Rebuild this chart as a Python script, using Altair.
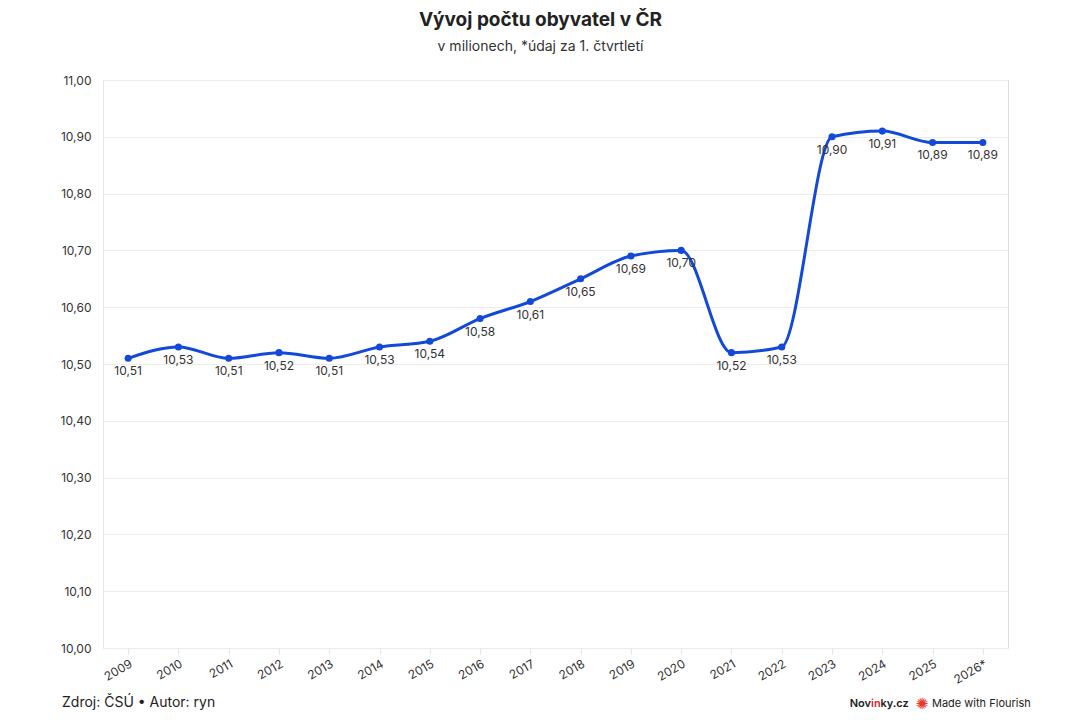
import altair as alt
import pandas as pd

years = ["2009", "2010", "2011", "2012", "2013", "2014", "2015", "2016", "2017",
         "2018", "2019", "2020", "2021", "2022", "2023", "2024", "2025", "2026*"]
values = [10.51, 10.53, 10.51, 10.52, 10.51, 10.53, 10.54, 10.58, 10.61,
          10.65, 10.69, 10.70, 10.52, 10.53, 10.90, 10.91, 10.89, 10.89]
y_ticks = [10.0, 10.1, 10.2, 10.3, 10.4, 10.5, 10.6, 10.7, 10.8, 10.9, 11.0]

df = pd.DataFrame({"rok": years, "hodnota": values})
df["popisek"] = [f"{v:.2f}".replace(".", ",") for v in values]

FONT = "Inter"
BLUE = "#1249d8"
TXT = "#333333"

x = alt.X("rok:O", sort=years, title=None,
          scale=alt.Scale(type="point", padding=0.5),
          axis=alt.Axis(labelAngle=330, labelAlign="right", labelBaseline="top",
                        labelFontSize=12, labelColor=TXT, labelFont=FONT,
                        tickColor="#e6e6e6", tickSize=6, domain=False,
                        labelPadding=4, grid=False))
y = alt.Y("hodnota:Q", title=None,
          scale=alt.Scale(domain=[10.0, 11.0], nice=False, zero=False),
          axis=alt.Axis(values=y_ticks, labelExpr="replace(format(datum.value, '.2f'), '.', ',')",
                        labelFontSize=12, labelColor=TXT, labelFont=FONT,
                        ticks=False, labelPadding=12, domain=True, domainColor="#e6e6e6",
                        gridColor="#ececec", grid=True))

base = alt.Chart(df)

line = base.mark_line(color=BLUE, strokeWidth=3, interpolate="monotone").encode(x=x, y=y)
points = base.mark_point(filled=True, color=BLUE, size=50, opacity=1).encode(x=x, y=y)
labels = base.mark_text(dy=13, fontSize=12, color=TXT, font=FONT, baseline="middle").encode(
    x=x, y=y, text="popisek:N")

footer_df = pd.DataFrame({"t": ["Zdroj: ČSÚ • Autor: ryn"]})
footer = alt.Chart(footer_df).mark_text(align="left", baseline="middle", fontSize=14,
                                        color="#222222", font=FONT).encode(
    x=alt.value(-41), y=alt.value(623), text="t:N")


def note(txt, xpos, color, size=11, weight=600, font=FONT, align="left"):
    d = pd.DataFrame({"t": [txt]})
    return alt.Chart(d).mark_text(align=align, baseline="middle", fontSize=size,
                                  fontWeight=weight, color=color, font=font).encode(
        x=alt.value(xpos), y=alt.value(624), text="t:N")


brand = alt.layer(
    note("Nov", 768, "#222222", align="right"),
    note("in", 768, "#d8232a"),
    note("ky.cz", 777.5, "#222222"),
    note("✺", 819, "#e8372c", size=15, weight=400, font="DejaVu Sans", align="center"),
    note("Made with Flourish", 829, "#222222", size=11, weight=400),
)

chart = alt.layer(line, points, labels, footer, brand).properties(
    width=905, height=568,
    autosize=alt.AutoSizeParams(type="none"),
    padding={"left": 95, "top": 72, "right": 64, "bottom": 64},
    title=alt.TitleParams(
        text="Vývoj počtu obyvatel v ČR",
        subtitle="v milionech, *údaj za 1. čtvrtletí",
        anchor="middle", frame="group", dx=-15, offset=20,
        fontSize=19, fontWeight="bold", color="#222222", font=FONT,
        subtitleFontSize=14, subtitleColor="#333333", subtitleFont=FONT,
        subtitlePadding=10,
    ),
).configure_view(strokeWidth=0, strokeOpacity=0).configure(background="white")

chart.save("out.html", embed_options={"renderer": "svg", "actions": False})
